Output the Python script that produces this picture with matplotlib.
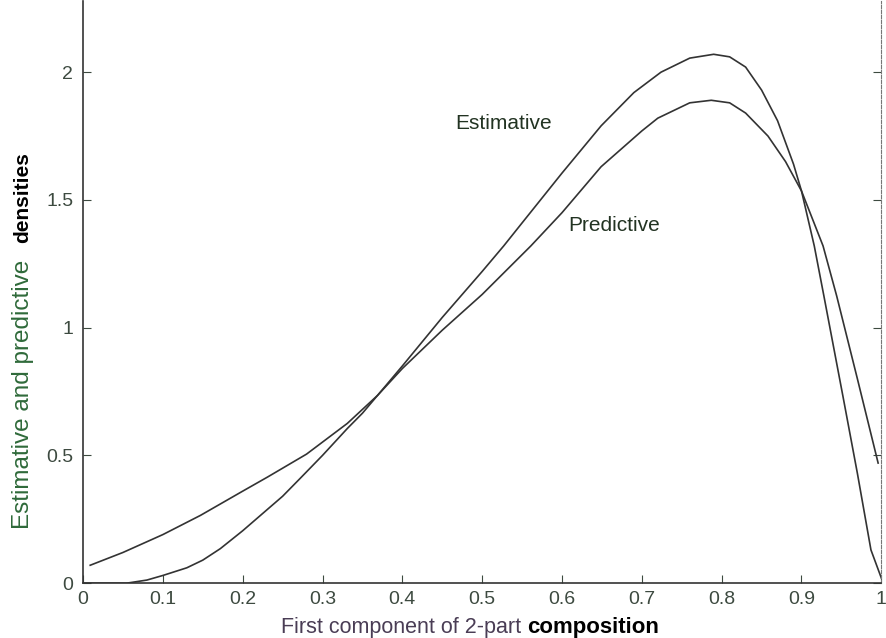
import numpy as np
import matplotlib.pyplot as plt
from matplotlib.offsetbox import TextArea, HPacker, AnnotationBbox

plt.rcParams['font.family'] = ['Liberation Sans', 'DejaVu Sans']

# values
est_x = [0.0, 0.03, 0.055, 0.08, 0.10, 0.13, 0.15, 0.172, 0.20, 0.25, 0.272, 0.30,
         0.331, 0.35, 0.369, 0.40, 0.45, 0.50, 0.527, 0.55, 0.60, 0.649, 0.69,
         0.724, 0.76, 0.79, 0.81, 0.83, 0.85, 0.87, 0.89, 0.90, 0.916, 0.928,
         0.952, 0.97, 0.987, 1.0]
est_y = [0.0, 0.0, 0.0, 0.012, 0.03, 0.06, 0.09, 0.135, 0.205, 0.34, 0.41, 0.5,
         0.605, 0.665, 0.735, 0.85, 1.04, 1.22, 1.32, 1.41, 1.605, 1.79, 1.92,
         2.0, 2.055, 2.07, 2.06, 2.02, 1.93, 1.81, 1.64, 1.535, 1.32, 1.125,
         0.73, 0.43, 0.13, 0.02]

pred_x = [0.009, 0.05, 0.10, 0.147, 0.20, 0.231, 0.28, 0.331, 0.369, 0.40, 0.45,
          0.50, 0.561, 0.60, 0.649, 0.70, 0.72, 0.76, 0.787, 0.81, 0.83, 0.858,
          0.88, 0.90, 0.927, 0.944, 0.97, 0.996]
pred_y = [0.07, 0.12, 0.19, 0.265, 0.36, 0.415, 0.505, 0.625, 0.735, 0.84, 0.99,
          1.13, 1.32, 1.45, 1.63, 1.77, 1.82, 1.88, 1.89, 1.88, 1.84, 1.75,
          1.65, 1.535, 1.32, 1.125, 0.80, 0.47]

x_ticks = [0, 0.1, 0.2, 0.3, 0.4, 0.5, 0.6, 0.7, 0.8, 0.9, 1]
x_labels = ['0', '0.1', '0.2', '0.3', '0.4', '0.5', '0.6', '0.7', '0.8', '0.9', '1']
y_ticks = [0, 0.5, 1, 1.5, 2]
y_labels = ['0', '0.5', '1', '1.5', '2']

line_col = '#333333'
txt_col = '#3d4a40'

fig = plt.figure(figsize=(8.87, 6.38), dpi=100)
ax = fig.add_axes([0.0936, 0.086, 0.9, 0.913])

ax.plot(est_x, est_y, color=line_col, lw=1.2)
ax.plot(pred_x, pred_y, color=line_col, lw=1.2)

ax.set_xlim(0, 1)
ax.set_ylim(0, 2.28)
ax.set_xticks(x_ticks)
ax.set_xticklabels(x_labels)
ax.set_yticks(y_ticks)
ax.set_yticklabels(y_labels)
ax.tick_params(direction='in', length=6, labelsize=14, colors=txt_col,
               right=True)
ax.tick_params(axis='x', pad=6)
ax.tick_params(axis='y', pad=7)

ax.spines['top'].set_visible(False)
ax.spines['right'].set_linestyle((0, (3, 1.5)))
ax.spines['right'].set_color('#777777')
for s in ['left', 'bottom']:
    ax.spines[s].set_color('#333333')
    ax.spines[s].set_linewidth(1.2)

ax.text(0.527, 1.80, 'Estimative', fontsize=15, color='#223322',
        ha='center', va='center')
ax.text(0.665, 1.40, 'Predictive', fontsize=15, color='#223322',
        ha='center', va='center')

# x axis label: plain part plus bold last word
xl = HPacker(children=[
    TextArea('First component of 2-part ', textprops=dict(fontsize=15.5, color='#4a3d55')),
    TextArea('composition', textprops=dict(fontsize=16, color='black', fontweight='bold')),
], align='baseline', pad=0, sep=0)
fig.add_artist(AnnotationBbox(xl, (0.53, 0.017), xycoords='figure fraction',
                              frameon=False, box_alignment=(0.5, 0.5)))

# y axis label, rotated pieces
fig.text(0.026, 0.382, 'Estimative and predictive', rotation=90, fontsize=17.5,
         color='#2f6a3a', ha='center', va='center')
fig.text(0.026, 0.690, 'densities', rotation=90, fontsize=15,
         color='black', fontweight='bold', ha='center', va='center')

fig.savefig('out.png', dpi=100)
